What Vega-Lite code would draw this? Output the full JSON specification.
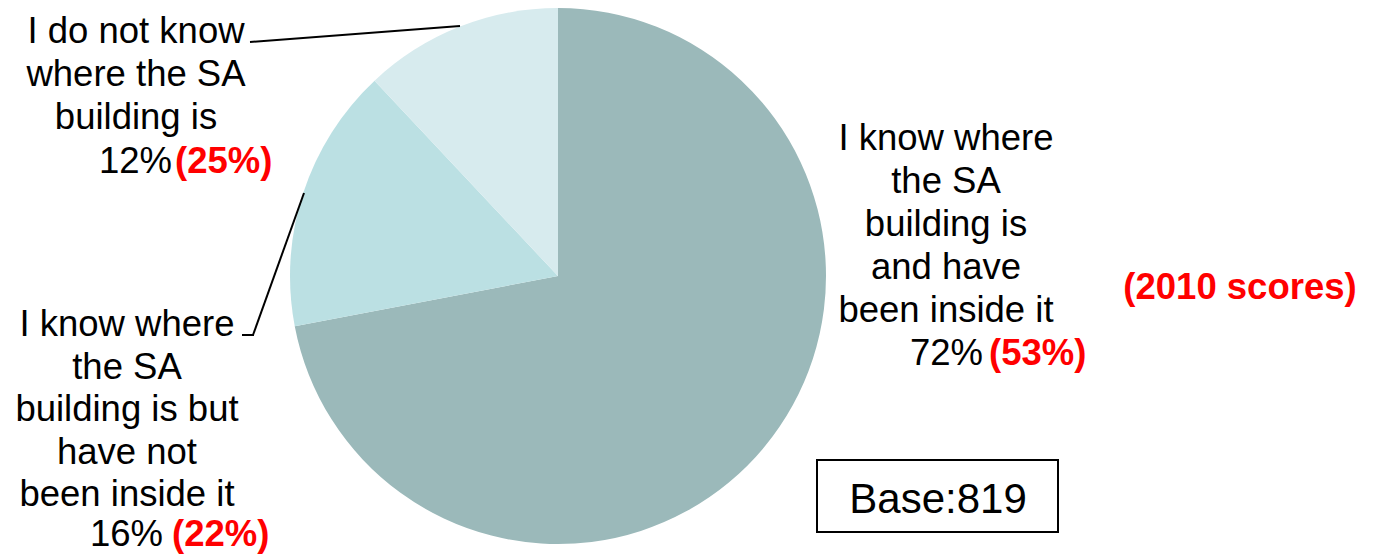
{
  "$schema": "https://vega.github.io/schema/vega-lite/v6.json",
  "autosize": "none",
  "width": 1116,
  "height": 552,
  "padding": {"left": 0, "top": 0, "right": 260, "bottom": 2},
  "background": "white",
  "config": {"view": {"stroke": null}, "font": "Liberation Sans"},
  "datasets": {
    "answers": [
      {"answer": "I know where the SA building is and have been inside it", "label": "I know where\nthe SA\nbuilding is\nand have\nbeen inside it", "pct": 0.72, "prev": 0.53, "order": 1},
      {"answer": "I know where the SA building is but have not been inside it", "label": "I know where\nthe SA\nbuilding is but\nhave not\nbeen inside it", "pct": 0.16, "prev": 0.22, "order": 2},
      {"answer": "I do not know where the SA building is", "label": "I do not know\nwhere the SA\nbuilding is", "pct": 0.12, "prev": 0.25, "order": 3}
    ],
    "base": [{"n": 819}]
  },
  "data": {"name": "answers"},
  "transform": [{"calculate": "'(' + format(datum.prev, '.0%') + ')'", "as": "prevLabel"}],
  "layer": [
    {
      "mark": {"type": "arc", "outerRadius": 268, "stroke": null},
      "encoding": {
        "theta": {"field": "pct", "type": "quantitative", "stack": true},
        "order": {"field": "order", "type": "quantitative"},
        "color": {
          "field": "answer", "type": "nominal", "legend": null,
          "scale": {
            "domain": ["I know where the SA building is and have been inside it", "I know where the SA building is but have not been inside it", "I do not know where the SA building is"],
            "range": ["#9BB9BA", "#BBE0E3", "#D7EBEE"]
          }
        }
      }
    },
    {
      "data": {"values": [{}]},
      "mark": {"type": "rule", "color": "black", "strokeWidth": 2},
      "encoding": {"x": {"value": 250}, "y": {"value": 42}, "x2": {"value": 460}, "y2": {"value": 26}}
    },
    {
      "data": {"values": [{}]},
      "mark": {"type": "rule", "color": "black", "strokeWidth": 2},
      "encoding": {"x": {"value": 242}, "y": {"value": 335}, "x2": {"value": 254}, "y2": {"value": 335}}
    },
    {
      "data": {"values": [{}]},
      "mark": {"type": "rule", "color": "black", "strokeWidth": 2},
      "encoding": {"x": {"value": 253}, "y": {"value": 335}, "x2": {"value": 304}, "y2": {"value": 193}}
    },
    {
      "transform": [{"filter": "datum.order == 1"}],
      "layer": [
        {"mark": {"type": "text", "x": 946, "y": 150, "align": "center", "baseline": "alphabetic", "fontSize": 36.5, "lineHeight": 43, "lineBreak": "\n", "color": "black"},
         "encoding": {"text": {"field": "label", "type": "nominal"}}},
        {"mark": {"type": "text", "x": 983, "y": 365, "align": "right", "baseline": "alphabetic", "fontSize": 36.5, "color": "black"},
         "encoding": {"text": {"field": "pct", "type": "quantitative", "format": ".0%"}}},
        {"mark": {"type": "text", "x": 989, "y": 365, "align": "left", "baseline": "alphabetic", "fontSize": 36.5, "fontWeight": "bold", "color": "#FF0000"},
         "encoding": {"text": {"field": "prevLabel", "type": "nominal"}}}
      ]
    },
    {
      "transform": [{"filter": "datum.order == 2"}],
      "layer": [
        {"mark": {"type": "text", "x": 127, "y": 336, "align": "center", "baseline": "alphabetic", "fontSize": 36.5, "lineHeight": 42.5, "lineBreak": "\n", "color": "black"},
         "encoding": {"text": {"field": "label", "type": "nominal"}}},
        {"mark": {"type": "text", "x": 163, "y": 546, "align": "right", "baseline": "alphabetic", "fontSize": 36.5, "color": "black"},
         "encoding": {"text": {"field": "pct", "type": "quantitative", "format": ".0%"}}},
        {"mark": {"type": "text", "x": 172, "y": 546, "align": "left", "baseline": "alphabetic", "fontSize": 36.5, "fontWeight": "bold", "color": "#FF0000"},
         "encoding": {"text": {"field": "prevLabel", "type": "nominal"}}}
      ]
    },
    {
      "transform": [{"filter": "datum.order == 3"}],
      "layer": [
        {"mark": {"type": "text", "x": 136, "y": 43, "align": "center", "baseline": "alphabetic", "fontSize": 36.5, "lineHeight": 43, "lineBreak": "\n", "color": "black"},
         "encoding": {"text": {"field": "label", "type": "nominal"}}},
        {"mark": {"type": "text", "x": 172, "y": 173, "align": "right", "baseline": "alphabetic", "fontSize": 36.5, "color": "black"},
         "encoding": {"text": {"field": "pct", "type": "quantitative", "format": ".0%"}}},
        {"mark": {"type": "text", "x": 175, "y": 173, "align": "left", "baseline": "alphabetic", "fontSize": 36.5, "fontWeight": "bold", "color": "#FF0000"},
         "encoding": {"text": {"field": "prevLabel", "type": "nominal"}}}
      ]
    },
    {
      "data": {"values": [{"note": "(2010 scores)"}]},
      "mark": {"type": "text", "x": 1240, "y": 299, "align": "center", "baseline": "alphabetic", "fontSize": 36.5, "fontWeight": "bold", "color": "#FF0000"},
      "encoding": {"text": {"field": "note", "type": "nominal"}}
    },
    {
      "data": {"name": "base"},
      "mark": {"type": "rect", "x": 817, "y": 460, "x2": 1058, "y2": 532, "fill": "white", "stroke": "black", "strokeWidth": 2},
      "encoding": {}
    },
    {
      "data": {"name": "base"},
      "transform": [{"calculate": "'Base:' + datum.n", "as": "baseLabel"}],
      "mark": {"type": "text", "x": 938, "y": 513, "align": "center", "baseline": "alphabetic", "fontSize": 42, "color": "black"},
      "encoding": {"text": {"field": "baseLabel", "type": "nominal"}}
    }
  ]
}
